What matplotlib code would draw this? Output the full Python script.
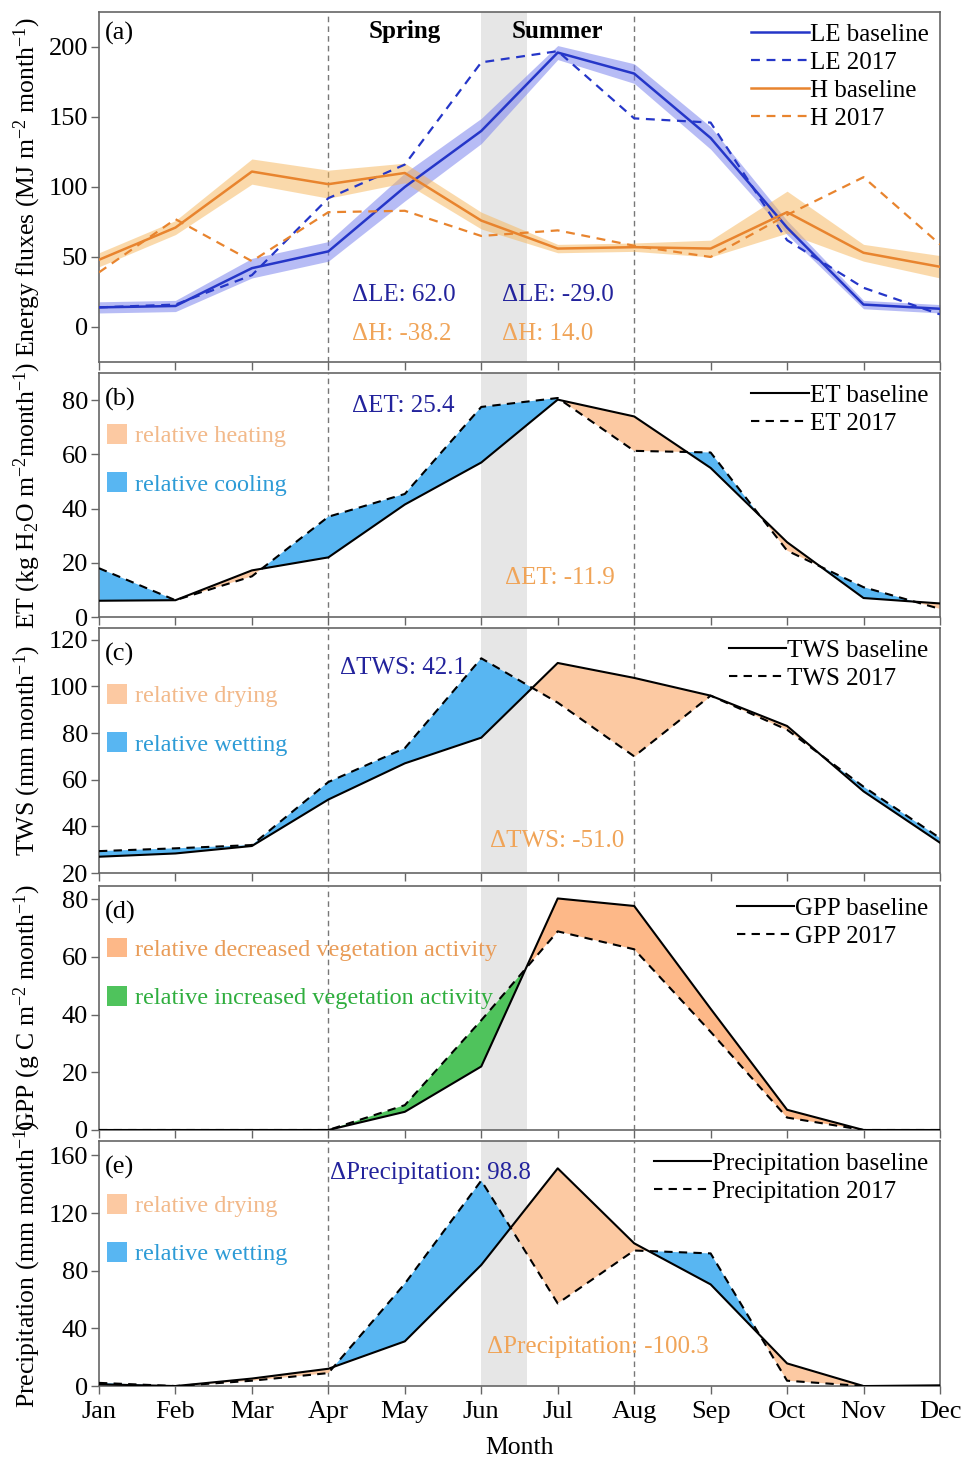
import numpy as np
import matplotlib.pyplot as plt
from matplotlib.patches import Patch

plt.rcParams['font.family'] = ['Liberation Serif', 'DejaVu Serif']
plt.rcParams['mathtext.fontset'] = 'custom'
plt.rcParams['mathtext.rm'] = 'Liberation Serif'
plt.rcParams['mathtext.it'] = 'Liberation Serif:italic'
plt.rcParams['mathtext.bf'] = 'Liberation Serif:bold'
plt.rcParams['axes.edgecolor'] = '#666666'
plt.rcParams['xtick.color'] = '#666666'
plt.rcParams['ytick.color'] = '#666666'
plt.rcParams['xtick.labelcolor'] = 'black'
plt.rcParams['ytick.labelcolor'] = 'black'

months = ['Jan', 'Feb', 'Mar', 'Apr', 'May', 'Jun',
          'Jul', 'Aug', 'Sep', 'Oct', 'Nov', 'Dec']

# energy fluxes (MJ m-2 month-1)
le_base = [14, 15, 42, 54, 100, 140, 196, 181, 135, 71, 16, 13]
le_spread = [4, 4, 7, 7, 10, 9, 5, 7, 8, 5, 3, 3]
le_2017 = [14, 16, 37, 92, 116, 189, 197, 149, 146, 62, 28, 9]
h_base = [48, 71, 111, 102, 110, 76, 56, 57, 56, 82, 53, 43]
h_spread = [5, 5, 9, 10, 7, 6, 3, 3, 6, 15, 6, 8]
h_2017 = [39, 77, 47, 82, 83, 65, 69, 58, 50, 80, 107, 59]

# evapotranspiration, water storage, productivity, rainfall
et_base = [6, 6.2, 17.2, 22, 41.5, 57, 80.2, 74, 55, 27.6, 7, 5]
et_2017 = [18, 6.2, 15, 37, 45.4, 77.5, 80.8, 61.3, 60.7, 24.5, 11, 3]
tws_base = [27, 28.4, 31.6, 51.5, 67, 78, 110, 103.6, 96, 83, 55, 33]
tws_2017 = [29.4, 30.6, 32, 59, 73.5, 112, 93, 70, 96, 81.4, 57, 35]
gpp_base = [0, 0, 0, 0, 6.3, 22, 80.2, 77.6, 42, 7, 0, 0]
gpp_2017 = [0, 0, 0, 0, 8.6, 38, 68.8, 62.6, 34, 4.3, 0, 0]
prec_base = [1.2, 0, 5.2, 12, 31, 84, 151, 99, 70.5, 15.7, 0, 0.5]
prec_2017 = [2.2, 0, 3.7, 9, 71, 142.5, 57.3, 94, 92, 3.7, 0, 0]

BLUE_FILL = '#58b6f2'
PEACH_FILL = '#fcc9a2'
PEACH_GPP = '#fdb888'
GREEN_FILL = '#4fc35c'
POS_TXT = '#23239c'
NEG_TXT = '#f0a458'
FS_TICK = 19
FS_LAB = 18.5
FS_TXT = 18

fig = plt.figure(figsize=(9.63, 14.59), dpi=100)
left, width = 0.1028, 0.8733
ax_a = fig.add_axes([left, 0.7519, width, 0.2399])
ax_b = fig.add_axes([left, 0.5771, width, 0.1672])
ax_c = fig.add_axes([left, 0.4016, width, 0.1680])
ax_d = fig.add_axes([left, 0.2255, width, 0.1672])
ax_e = fig.add_axes([left, 0.0500, width, 0.1680])
axes = [ax_a, ax_b, ax_c, ax_d, ax_e]
x = np.arange(12)

for ax in axes:
    ax.axvspan(5, 5.6, color='#e6e6e6', lw=0, zorder=0)
    for xv in (3, 7):
        ax.axvline(xv, color='#777777', lw=1, ls=(0, (4, 3)), zorder=0.5)
    ax.set_xlim(0, 11)
    ax.set_xticks(x)
    ax.set_xticklabels([])
    ax.tick_params(direction='out', length=6, width=1, labelsize=FS_TICK, pad=2)
    for sp in ax.spines.values():
        sp.set_linewidth(1.2)
ax_e.set_xticklabels(months)
ax_e.tick_params(axis='x', pad=5)
ax_e.set_xlabel('Month', fontsize=FS_LAB, labelpad=10)

# (a) energy fluxes with spread bands
le_b, le_s = np.array(le_base), np.array(le_spread)
h_b, h_s = np.array(h_base), np.array(h_spread)
ax_a.fill_between(x, le_b - le_s, le_b + le_s, color='#7d85ee', alpha=0.55, lw=0, zorder=1)
ax_a.fill_between(x, h_b - h_s, h_b + h_s, color='#f6b558', alpha=0.5, lw=0, zorder=1)
ax_a.plot(x, le_base, color='#2536c8', lw=1.8, label='LE baseline', zorder=3)
ax_a.plot(x, le_2017, color='#2536c8', lw=1.6, ls=(0, (4, 3)), label='LE 2017', zorder=3)
ax_a.plot(x, h_base, color='#e8842e', lw=1.8, label='H baseline', zorder=3)
ax_a.plot(x, h_2017, color='#e8842e', lw=1.6, ls=(0, (4, 3)), label='H 2017', zorder=3)
ax_a.set_ylim(-25, 225)
ax_a.set_yticks([0, 50, 100, 150, 200])
ax_a.text(4, 211, 'Spring', ha='center', va='center', fontsize=FS_TXT, fontweight='bold')
ax_a.text(6, 211, 'Summer', ha='center', va='center', fontsize=FS_TXT, fontweight='bold')
ax_a.text(3.31, 23, 'ΔLE: 62.0', color=POS_TXT, fontsize=FS_TXT, va='center')
ax_a.text(3.31, -5, 'ΔH: -38.2', color=NEG_TXT, fontsize=FS_TXT, va='center')
ax_a.text(5.27, 23, 'ΔLE: -29.0', color=POS_TXT, fontsize=FS_TXT, va='center')
ax_a.text(5.27, -5, 'ΔH: 14.0', color=NEG_TXT, fontsize=FS_TXT, va='center')
ax_a.set_ylabel('Energy fluxes (MJ m$^{-2}$ month$^{-1}$)', fontsize=FS_LAB)


def diff_panel(ax, base, yr, name, pos_col, neg_col):
    base, yr = np.array(base, float), np.array(yr, float)
    ax.fill_between(x, base, yr, where=yr >= base, interpolate=True,
                    color=pos_col, lw=0, zorder=1)
    ax.fill_between(x, base, yr, where=yr <= base, interpolate=True,
                    color=neg_col, lw=0, zorder=1)
    ax.plot(x, base, color='black', lw=1.5, label=name + ' baseline', zorder=3)
    ax.plot(x, yr, color='black', lw=1.5, ls=(0, (4, 3)), label=name + ' 2017', zorder=3)


def patch_key(ax, labels, colors, text_colors, top):
    handles = [Patch(facecolor=c, edgecolor='none') for c in colors]
    leg = ax.legend(handles, labels, loc='upper left', bbox_to_anchor=(0.009, top),
                    frameon=False, fontsize=17.5, handlelength=0.85, handleheight=0.85,
                    handletextpad=0.3, labelspacing=1.03, borderpad=0, borderaxespad=0,
                    labelcolor=text_colors)
    return leg


def line_key(ax):
    ax.legend(loc='upper right', frameon=False, fontsize=FS_TXT, handlelength=2.3,
              handletextpad=0.05, labelspacing=0.22, borderpad=0.15, borderaxespad=0.3)


# (b) ET
diff_panel(ax_b, et_base, et_2017, 'ET', BLUE_FILL, PEACH_FILL)
ax_b.set_ylim(0, 90)
ax_b.set_yticks([0, 20, 40, 60, 80])
ax_b.set_ylabel('ET (kg H$_2$O m$^{-2}$month$^{-1}$)', fontsize=FS_LAB)
ax_b.text(3.31, 78, 'ΔET: 25.4', color=POS_TXT, fontsize=FS_TXT, va='center')
ax_b.text(5.31, 14.3, 'ΔET: -11.9', color=NEG_TXT, fontsize=FS_TXT, va='center')
kb = patch_key(ax_b, ['relative heating', 'relative cooling'], [PEACH_FILL, BLUE_FILL],
               ['#f2b98a', '#2d9bd6'], 0.79)
line_key(ax_b)
ax_b.add_artist(kb)

# (c) TWS
diff_panel(ax_c, tws_base, tws_2017, 'TWS', BLUE_FILL, PEACH_FILL)
ax_c.set_ylim(20, 125)
ax_c.set_yticks([20, 40, 60, 80, 100, 120])
ax_c.set_ylabel('TWS (mm month$^{-1}$)', fontsize=FS_LAB)
ax_c.text(3.15, 108, 'ΔTWS: 42.1', color=POS_TXT, fontsize=FS_TXT, va='center')
ax_c.text(5.11, 33.7, 'ΔTWS: -51.0', color=NEG_TXT, fontsize=FS_TXT, va='center')
kc = patch_key(ax_c, ['relative drying', 'relative wetting'], [PEACH_FILL, BLUE_FILL],
               ['#f2b98a', '#2d9bd6'], 0.77)
line_key(ax_c)
ax_c.add_artist(kc)

# (d) GPP
diff_panel(ax_d, gpp_base, gpp_2017, 'GPP', GREEN_FILL, PEACH_GPP)
ax_d.set_ylim(0, 84.5)
ax_d.set_yticks([0, 20, 40, 60, 80])
ax_d.set_ylabel('GPP (g C m$^{-2}$ month$^{-1}$)', fontsize=FS_LAB)
kd = patch_key(ax_d, ['relative decreased vegetation activity',
                      'relative increased vegetation activity'],
               [PEACH_GPP, GREEN_FILL], ['#e99c58', '#2fae3e'], 0.787)
line_key(ax_d)
ax_d.add_artist(kd)

# (e) precipitation
diff_panel(ax_e, prec_base, prec_2017, 'Precipitation', BLUE_FILL, PEACH_FILL)
ax_e.set_ylim(0, 170)
ax_e.set_yticks([0, 40, 80, 120, 160])
ax_e.set_ylabel('Precipitation (mm month$^{-1}$)', fontsize=FS_LAB)
ax_e.text(3.02, 148, 'ΔPrecipitation: 98.8', color=POS_TXT, fontsize=FS_TXT, va='center')
ax_e.text(5.07, 27, 'ΔPrecipitation: -100.3', color=NEG_TXT, fontsize=FS_TXT, va='center')
ke = patch_key(ax_e, ['relative drying', 'relative wetting'], [PEACH_FILL, BLUE_FILL],
               ['#f2b98a', '#2d9bd6'], 0.783)
line_key(ax_e)
ax_e.add_artist(ke)

line_key(ax_a)

for ax, lab in zip(axes, ['(a)', '(b)', '(c)', '(d)', '(e)']):
    ax.text(0.007, 0.94 if lab == '(a)' else 0.89, lab, transform=ax.transAxes,
            fontsize=19, va='center', ha='left')
    ax.yaxis.set_label_coords(-0.067, 0.5)

fig.savefig('out.png', dpi=100)
